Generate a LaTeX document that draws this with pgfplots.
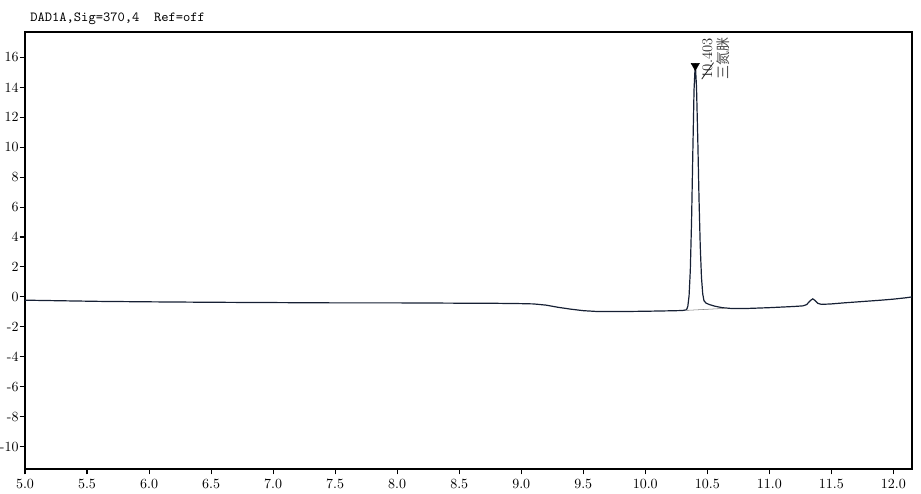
\documentclass[border=0pt]{standalone}
\usepackage{fontspec}
\usepackage{pgfplots}
\pgfplotsset{compat=1.18}
\newfontfamily\cjk{Noto Sans CJK SC}
\definecolor{trace}{RGB}{22,32,52}
\begin{document}
\begin{tikzpicture}
\path[use as bounding box] (-18.75pt,-18pt) rectangle (672pt,351.75pt);
\begin{axis}[
  at={(0,0)}, anchor=south west,
  scale only axis,
  width=665.25pt, height=327.75pt,
  xmin=5.0, xmax=12.15, ymin=-11.5, ymax=17.7,
  xtick={5.0,5.5,...,12.0},
  xticklabels={5.0,5.5,6.0,6.5,7.0,7.5,8.0,8.5,9.0,9.5,10.0,10.5,11.0,11.5,12.0},
  ytick={-10,-8,...,16},
  yticklabels={-10,-8,-6,-4,-2,0,2,4,6,8,10,12,14,16},
  tick align=outside, tick pos=left,
  major tick length=4pt,
  axis line style={line width=1.1pt},
  every tick/.style={black, line width=0.8pt},
  tick label style={font=\fontsize{10.5}{12}\selectfont},
  yticklabel style={inner sep=0.6pt},
  clip=false,
]
\addplot[trace, line width=0.9pt] coordinates {
(5.0,-0.22) (5.3,-0.26) (5.6,-0.30) (6.0,-0.33) (6.5,-0.36) (7.0,-0.38)
(7.5,-0.40) (8.0,-0.40) (8.5,-0.42) (8.8,-0.43) (9.0,-0.45) (9.1,-0.47)
(9.2,-0.55) (9.3,-0.70) (9.4,-0.82) (9.5,-0.92) (9.6,-0.97) (9.8,-0.98)
(10.0,-0.96) (10.2,-0.93) (10.3,-0.91) (10.333,-0.86) (10.343,-0.62)
(10.353,0.07) (10.363,1.79) (10.373,5.05) (10.383,9.58) (10.393,13.83)
(10.403,15.6) (10.413,14.0) (10.423,10.6) (10.433,6.6) (10.443,3.4)
(10.453,1.3) (10.463,0.2) (10.473,-0.25) (10.49,-0.42) (10.52,-0.52)
(10.56,-0.62) (10.62,-0.72) (10.7,-0.78) (10.8,-0.78) (10.9,-0.75)
(11.0,-0.72) (11.1,-0.68) (11.2,-0.64) (11.27,-0.60) (11.3,-0.52)
(11.33,-0.25) (11.35,-0.13) (11.37,-0.25) (11.39,-0.43) (11.42,-0.50)
(11.5,-0.47) (11.6,-0.40) (11.7,-0.34) (11.8,-0.28) (11.9,-0.22)
(12.0,-0.15) (12.1,-0.06) (12.15,0.0)
};
\addplot[gray, line width=0.4pt] coordinates {(10.333,-0.90) (10.66,-0.76)};
\addplot[only marks, mark=triangle*, mark size=3.6pt, black,
  mark options={rotate=180}] coordinates {(10.403,15.45)};
\draw[black!85, line width=0.6pt] (axis cs:10.455,14.55) -- (axis cs:10.55,15.65);
\node[rotate=90, font=\fontsize{11}{12}\selectfont, text=black!85, inner sep=0pt]
  at (axis cs:10.50,15.94) {10.403};
\node[rotate=90, font=\cjk\fontsize{10.5}{12}\selectfont, text=black!70, inner sep=0pt]
  at (axis cs:10.625,15.94) {三氮脒};
\node[anchor=base west, inner sep=0pt, font=\ttfamily\fontsize{10.4}{12}\selectfont]
  at ([xshift=3.75pt, yshift=8pt]rel axis cs:0,1) {DAD1A,Sig=370,4\ \ Ref=off};
\end{axis}
\end{tikzpicture}
\end{document}
